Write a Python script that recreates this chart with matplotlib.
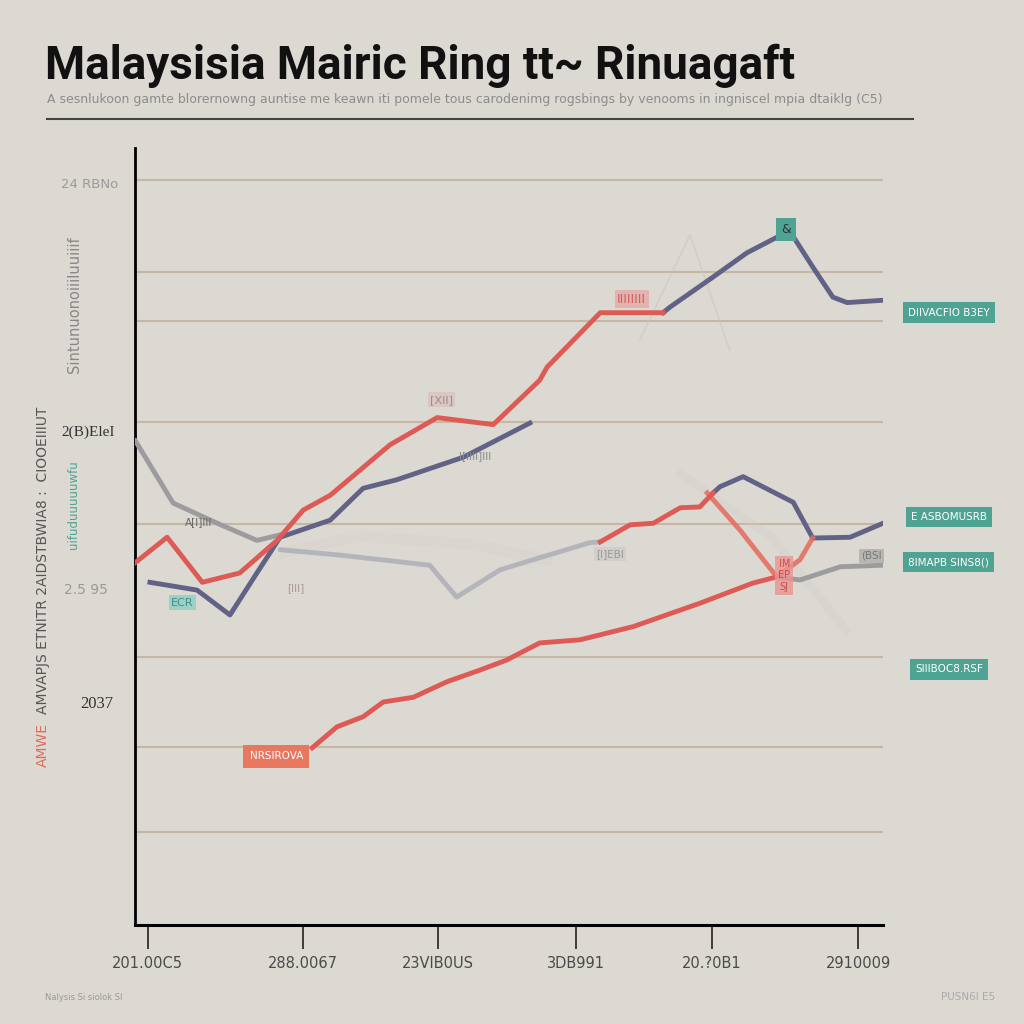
import matplotlib.pyplot as plt

# data (x: 0-100 along the axis, y: 0-100 up the axis)
red_up_x = [0, 4.3, 9.0, 14.0, 19.0, 22.5, 26.1, 34.1, 40.4, 47.9, 54.1, 55.1, 62.2, 70.6]
red_up_y = [46.6, 49.9, 44.1, 45.3, 49.5, 53.4, 55.3, 61.8, 65.3, 64.4, 70.1, 71.8, 78.8, 78.8]

navy_up_x = [70.6, 71.5, 77.3, 81.8, 85.8, 87.2, 90.6, 93.3, 95.2, 100.0]
navy_up_y = [78.8, 79.5, 83.4, 86.5, 88.5, 89.8, 84.7, 80.8, 80.1, 80.4]

gray_left_x = [0, 5.1, 11.0, 16.3, 19.4]
gray_left_y = [62.4, 54.3, 51.7, 49.5, 50.2]

navy_mid_x = [2.0, 8.3, 12.7, 16.3, 19.4, 26.1, 30.5, 35.0, 43.9, 52.8]
navy_mid_y = [44.1, 43.1, 39.9, 45.3, 49.9, 52.1, 56.2, 57.3, 60.2, 64.6]

gray_mid_x = [19.4, 27.4, 39.4, 43.0, 48.8, 53.2, 60.8, 62.2]
gray_mid_y = [48.3, 47.6, 46.3, 42.2, 45.7, 47.0, 49.2, 49.3]

red_mid_x = [62.2, 66.2, 69.3, 72.9, 75.5, 77.3]
red_mid_y = [49.3, 51.5, 51.7, 53.7, 53.8, 55.6]

navy_low_x = [77.3, 78.2, 81.3, 88.0, 90.6, 95.6, 100.0]
navy_low_y = [55.6, 56.4, 57.7, 54.4, 49.8, 49.9, 51.7]

red_drop_x = [76.5, 80.9, 85.8, 88.9, 90.6]
red_drop_y = [55.6, 50.8, 44.8, 47.0, 49.8]

red_low_x = [23.7, 27.0, 30.5, 33.2, 37.2, 41.7, 46.1, 49.7, 54.1, 59.5, 66.6, 75.5, 82.6, 85.8]
red_low_y = [22.8, 25.5, 26.8, 28.7, 29.3, 31.3, 32.8, 34.1, 36.3, 36.7, 38.4, 41.4, 44.0, 44.8]

gray_tail_x = [85.8, 88.9, 94.3, 100.0]
gray_tail_y = [44.8, 44.4, 46.1, 46.3]

grid_y = [95.9, 84.0, 77.7, 64.7, 51.6, 34.5, 22.9, 12.0]

x_ticks = [1.7, 22.5, 40.5, 59.0, 77.1, 96.7]
x_labels = ['201.00C5', '288.0067', '23VIB0US', '3DB991', '20.?0B1', '2910009']

right_tags = ['DIIVACFIO B3EY', 'E ASBOMUSRB', '8IMAPB SINS8()', 'SIIIBOC8.RSF']
right_tag_y = [78.8, 52.5, 46.7, 32.9]

BG = '#dcd9d3'
RED = '#de5a55'
NAVY = '#626286'
GRAY = '#9c9c9f'
TEAL = '#4fa393'

fig = plt.figure(figsize=(10.24, 10.24), dpi=100, facecolor=BG)
ax = fig.add_axes([0.1318, 0.0967, 0.7305, 0.7588], facecolor=BG)

for gy in grid_y:
    ax.axhline(gy, color='#c6b7a2', lw=1.5, zorder=1)

# faint ghost strokes
ax.plot([67.5, 74.2, 79.5], [75.3, 88.8, 74.0], color='#c8c4bf', lw=1.2, alpha=0.5, zorder=2)
ax.plot([20, 30, 45, 55], [48, 50, 49, 47], color='#d8cfc9', lw=8, alpha=0.4, zorder=2)
ax.plot([73, 85, 95], [58, 50, 38], color='#d2cbc6', lw=6, alpha=0.3, zorder=2)

ax.plot(gray_left_x, gray_left_y, color=GRAY, lw=3.5, solid_capstyle='round', zorder=3)
ax.plot(gray_mid_x, gray_mid_y, color='#a9adb5', lw=3.5, alpha=0.8, solid_capstyle='round', zorder=3)
ax.plot(gray_tail_x, gray_tail_y, color=GRAY, lw=3.5, zorder=3)
ax.plot(navy_mid_x, navy_mid_y, color=NAVY, lw=3.5, zorder=4)
ax.plot(navy_up_x, navy_up_y, color=NAVY, lw=3.5, zorder=4)
ax.plot(navy_low_x, navy_low_y, color=NAVY, lw=3.5, zorder=4)
ax.plot(red_low_x, red_low_y, color=RED, lw=3.5, zorder=5)
ax.plot(red_drop_x, red_drop_y, color='#e56a5c', lw=3.5, alpha=0.85, zorder=5)
ax.plot(red_mid_x, red_mid_y, color=RED, lw=3.5, zorder=5)
ax.plot(red_up_x, red_up_y, color=RED, lw=3.5, zorder=5)

# small in-plot tags
ax.text(18.9, 21.7, 'NRSIROVA', color='white', fontsize=7.5,
        ha='center', va='center', zorder=6,
        bbox=dict(boxstyle='square,pad=0.6', fc='#e8775f', ec='none'))
ax.text(87.0, 89.5, '&', color='#333', fontsize=9, ha='center', va='center', zorder=6,
        bbox=dict(boxstyle='square,pad=0.4', fc=TEAL, ec='none'))
ax.text(66.4, 80.5, 'IIIIIIII', color='#d06060', fontsize=9, ha='center', va='center', zorder=6,
        bbox=dict(boxstyle='square,pad=0.2', fc='#e9a3a0', ec='none', alpha=0.7))
ax.text(86.8, 45.0, 'IM\nEP\nSJ', color='#c05050', fontsize=7, ha='center', va='center', zorder=6,
        bbox=dict(boxstyle='square,pad=0.3', fc='#eb9590', ec='none', alpha=0.8))
ax.text(6.3, 41.5, 'ECR', color='#3f8f86', fontsize=8, ha='center', va='center', zorder=6,
        bbox=dict(boxstyle='square,pad=0.2', fc='#8fcfc3', ec='none', alpha=0.8))
ax.text(8.5, 51.8, 'A[I]III', color='#666', fontsize=7.5, ha='center', va='center', zorder=6)
ax.text(41.0, 67.6, '[XII]', color='#a88', fontsize=8, ha='center', va='center', zorder=6,
        bbox=dict(boxstyle='square,pad=0.2', fc='#d9c3c1', ec='none', alpha=0.8))
ax.text(45.5, 60.3, 'I[IIII]III', color='#888', fontsize=7.5, ha='center', va='center', zorder=6)
ax.text(63.5, 47.7, '[I]EBI', color='#999', fontsize=7.5, ha='center', va='center', zorder=6,
        bbox=dict(boxstyle='square,pad=0.2', fc='#d2cfca', ec='none'))
ax.text(21.5, 43.3, '[III]', color='#aa9999', fontsize=7.5, ha='center', va='center', zorder=6)
ax.text(98.5, 47.5, '(BSI', color='#777', fontsize=7.5, ha='center', va='center', zorder=6,
        bbox=dict(boxstyle='square,pad=0.2', fc='#a8a8a8', ec='none', alpha=0.7))

for label, ty in zip(right_tags, right_tag_y):
    ax.text(108.8, ty, label, color='white', fontsize=7.5,
            ha='center', va='center', clip_on=False, zorder=6,
            bbox=dict(boxstyle='square,pad=0.5', fc=TEAL, ec='none'))

ax.set_xlim(0, 100)
ax.set_ylim(0, 100)
ax.spines['top'].set_visible(False)
ax.spines['right'].set_visible(False)
ax.spines['left'].set_linewidth(2)
ax.spines['bottom'].set_linewidth(2.2)
ax.set_yticks([])
ax.set_xticks(x_ticks)
ax.set_xticklabels(x_labels, fontsize=10.5, color='#4a4a4a')
ax.tick_params(axis='x', length=17, width=1.2, color='#222', pad=5)

# y-axis labels (placed freely like in the reference)
fig.text(118 / 1024, 1 - 185 / 1024, '24 RBNo', ha='right', va='center', fontsize=9.5,
         color='#9a9a9a')
fig.text(115 / 1024, 1 - 432 / 1024, '2(B)EleI', ha='right', va='center', fontsize=11,
         color='#333', family='Liberation Serif')
fig.text(108 / 1024, 1 - 590 / 1024, '2.5 95', ha='right', va='center', fontsize=10,
         color='#9a9a9a')
fig.text(113 / 1024, 1 - 704 / 1024, '2037', ha='right', va='center', fontsize=12,
         color='#333', family='Liberation Serif')
fig.text(75 / 1024, 1 - 305 / 1024, 'Sintunuonoiiiluuiiif', rotation=90, ha='center', va='center',
         fontsize=10.5, color='#888')
fig.text(73 / 1024, 1 - 505 / 1024, 'uifuduuuuuwfu', rotation=90, ha='center', va='center',
         fontsize=8.5, color=TEAL)
fig.text(43 / 1024, 1 - 560 / 1024, 'AMVAPJS ETNITR 2AIDSTBWIA8 :  CIOOEIIIUT', rotation=90,
         ha='center', va='center', fontsize=10, color='#555')
fig.text(43 / 1024, 1 - 745 / 1024, 'AMWE', rotation=90, ha='center', va='center',
         fontsize=10, color='#e06a5a')

# title block
fig.text(45 / 1024, 1 - 66 / 1024, 'Malaysisia Mairic Ring tt~ Rinuagaft', ha='left', va='center',
         fontsize=33, fontweight='bold', color='#111', family='Roboto')
fig.text(47 / 1024, 1 - 100 / 1024,
         'A sesnlukoon gamte blorernowng auntise me keawn iti pomele tous carodenimg rogsbings '
         'by venooms in ingniscel mpia dtaiklg (C5)',
         ha='left', va='center', fontsize=9, color='#8c8c8c')
fig.add_artist(plt.Line2D([47 / 1024, 913 / 1024], [1 - 119 / 1024, 1 - 119 / 1024],
                          color='#444', lw=1.5))

fig.text(45 / 1024, 1 - 998 / 1024, 'Nalysis Si siolok SI', ha='left', va='center', fontsize=6,
         color='#999')
fig.text(995 / 1024, 1 - 997 / 1024, 'PUSN6I E5', ha='right', va='center', fontsize=7.5,
         color='#aaa')

fig.savefig('out.png', dpi=100, facecolor=BG)
